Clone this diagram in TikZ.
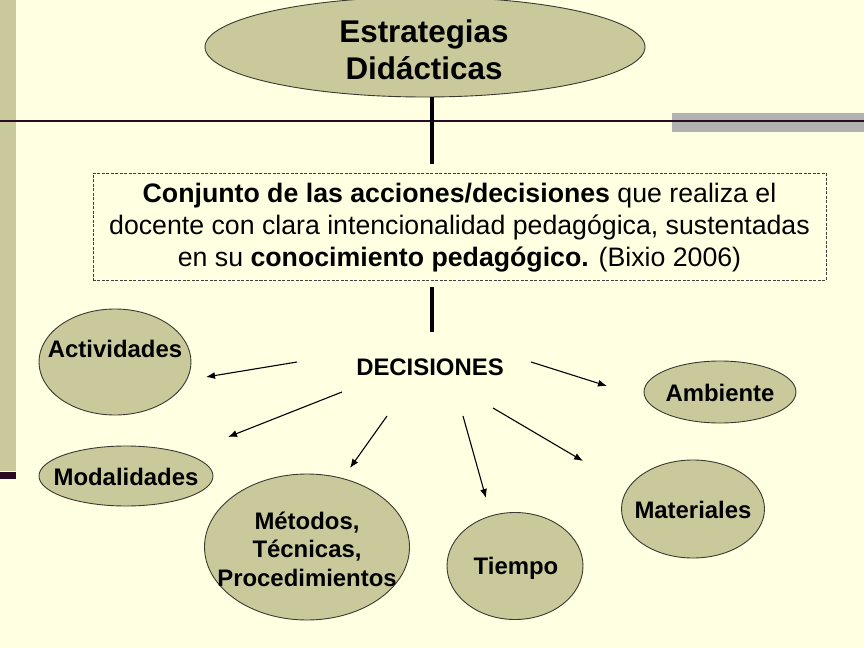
\documentclass[tikz,border=0pt]{standalone}
\usepackage{fontspec}
\setmainfont{Liberation Sans}
\usetikzlibrary{arrows.meta,shapes.geometric}
\definecolor{bg}{HTML}{FFFFE1}
\definecolor{khaki}{HTML}{C9C99B}
\definecolor{rulecol}{HTML}{2B0B22}
\definecolor{greybar}{HTML}{B2B2B2}
\definecolor{outline}{HTML}{3A3A30}
\begin{document}
\begin{tikzpicture}[x=1bp,y=-1bp,
  oval/.style={ellipse,draw=outline,line width=0.9bp,fill=khaki,inner sep=0pt},
  lbl/.style={font=\fontsize{24}{28.5}\selectfont\bfseries,align=center,inner sep=0pt},
  stem/.style={line width=4.5bp,black},
  arr/.style={line width=1.1bp,-{Latex[length=9bp,width=7bp]}}]
\fill[bg] (0,0) rectangle (864,648);
\useasboundingbox (0,0) rectangle (864,648);
% decorative bars
\fill[khaki] (0,0) rectangle (16,471);
\fill[rulecol] (0,472) rectangle (16,479);
\fill[greybar] (672,113) rectangle (864,132);
\draw[rulecol,line width=2.2bp] (0,121) -- (864,121);
% title
\node[oval,minimum width=440bp,minimum height=100bp] (title) at (425,47) {};
\node[lbl,font=\fontsize{31.5}{37}\selectfont\bfseries] (titletxt) at (424,49.5) {Estrategias\\Did\'acticas};
% definition box
\node[draw=black!75,dash pattern=on 3bp off 1.5bp,line width=0.7bp,minimum width=733bp,minimum height=107bp,inner sep=0pt] (def) at (459.5,226.5) {};
\node[align=center,inner sep=0pt,font=\fontsize{26.8}{32}\selectfont] (deftxt) at (459.5,227.5) {\textbf{Conjunto de las acciones/decisiones} que realiza el\\docente con clara intencionalidad pedag\'ogica, sustentadas\\en su \textbf{conocimiento pedag\'ogico.} (Bixio 2006)};
% decisions
\node[lbl] (dec) at (430,367) {DECISIONES};
\coordinate (s1) at (432,97); \coordinate (e1) at (432,164);
\coordinate (s2) at (432,287); \coordinate (e2) at (432,332);
\draw[stem] (s1) -- (e1);
\draw[stem] (s2) -- (e2);
% option ovals
\node[oval,minimum width=152bp,minimum height=106bp] (act) at (115,362) {};
\node[lbl] (acttxt) at (115,349) {Actividades};
\node[oval,minimum width=174bp,minimum height=60bp] (mod) at (126,476) {};
\node[lbl] (modtxt) at (126,477) {Modalidades};
\node[oval,minimum width=205bp,minimum height=146bp] (met) at (307,547) {};
\node[lbl] (mettxt) at (307,549) {M\'etodos,\\T\'ecnicas,\\Procedimientos};
\node[oval,minimum width=136bp,minimum height=107bp] (tie) at (515,566) {};
\node[lbl] (tietxt) at (516,568) {Tiempo};
\node[oval,minimum width=143bp,minimum height=98bp] (mat) at (693,509) {};
\node[lbl] (mattxt) at (693,510) {Materiales};
\node[oval,minimum width=152bp,minimum height=62bp] (amb) at (720,392) {};
\node[lbl] (ambtxt) at (720,393) {Ambiente};
% arrows
\coordinate (a1s) at (297,362); \coordinate (a1e) at (206,377);
\coordinate (a2s) at (342,392); \coordinate (a2e) at (228,437);
\coordinate (a3s) at (387,416); \coordinate (a3e) at (350,468);
\coordinate (a4s) at (463,416); \coordinate (a4e) at (486,498);
\coordinate (a5s) at (493,408); \coordinate (a5e) at (583,461);
\coordinate (a6s) at (531,362); \coordinate (a6e) at (607,386);
\draw[arr] (a1s) -- (a1e);
\draw[arr] (a2s) -- (a2e);
\draw[arr] (a3s) -- (a3e);
\draw[arr] (a4s) -- (a4e);
\draw[arr] (a5s) -- (a5e);
\draw[arr] (a6s) -- (a6e);
\end{tikzpicture}
\end{document}
